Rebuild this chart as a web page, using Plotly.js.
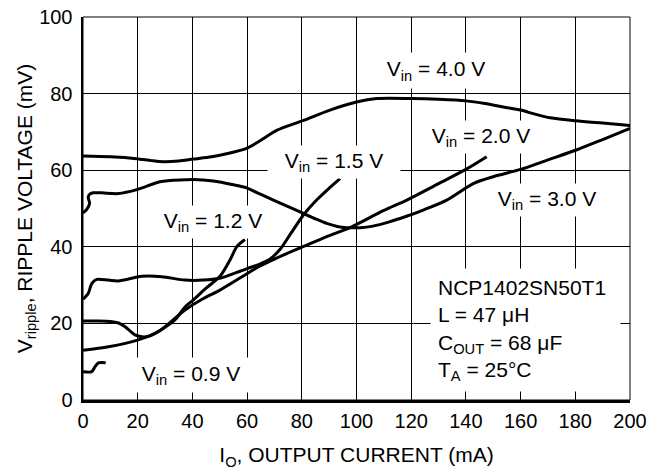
<!DOCTYPE html>
<html>
<head>
<meta charset="utf-8">
<script src="https://cdn.plot.ly/plotly-3.0.1.min.js"></script>
<style>html,body{margin:0;padding:0;background:#fff;}#chart{width:652px;height:472px;}</style>
</head>
<body>
<div id="chart"></div>
<script>
// Vin = 0.9 V
const x09 = [0, 3.2, 4.4, 5.6, 8.3];
const y09 = [7.4, 7.4, 8.7, 9.7, 9.7];
// Vin = 1.2 V
const x12 = [0, 5, 10, 13, 15.4, 19, 21.5, 24, 26.3, 30, 33.6, 37.3, 40.3, 45, 50.1, 53.7, 56.2, 59.2];
const y12 = [20.6, 20.6, 20.5, 20.1, 19.1, 17.0, 16.5, 16.6, 17.4, 19.0, 20.9, 24.3, 26.1, 29.2, 32.3, 36.5, 40.0, 41.9];
// Vin = 1.5 V
const x15 = [0, 1.9, 3.2, 5, 9.3, 12.9, 21.5, 28.8, 37.3, 44, 50, 55, 60, 64.7, 68.4, 72, 76, 80.6, 85.4, 90, 94];
const y15 = [26.3, 27.8, 30.4, 31.5, 31.3, 31.1, 32.3, 32.2, 31.3, 31.3, 31.8, 33.0, 34.3, 35.5, 36.8, 39.3, 43.5, 48.3, 52.2, 55.3, 57.8];
// Vin = 2.0 V
const x20 = [0, 9.3, 20.2, 27.5, 37.3, 44, 50.1, 59.8, 64.7, 70, 80, 90.3, 97.6, 110, 118.4, 130, 140, 147.6];
const y20 = [13.0, 13.9, 15.7, 17.8, 23.5, 26.5, 28.7, 32.9, 35.0, 36.8, 39.9, 43.0, 45.0, 49.5, 52.2, 56.5, 60.2, 63.5];
// Vin = 3.0 V
const x30 = [0, 1.2, 2.4, 1.9, 2.6, 3.8, 6.8, 12.9, 20, 28.2, 37.3, 40.3, 47.6, 55, 59.8, 64, 69.6, 75, 80.6, 85, 89.1, 93, 96.4, 101.3, 106, 112, 118, 124.4, 133, 142.7, 150, 160, 170, 180.1, 190, 200];
const y30 = [48.9, 49.6, 51.3, 53.0, 53.8, 54.1, 54.1, 53.9, 55.0, 57.0, 57.5, 57.6, 57.2, 56.2, 55.4, 54.0, 52.2, 50.5, 48.7, 47.3, 46.1, 45.3, 45.0, 45.0, 45.4, 46.5, 47.9, 49.6, 52.2, 56.5, 58.3, 60.2, 62.7, 65.2, 68.0, 70.9];
// Vin = 4.0 V
const x40 = [0, 10, 19.6, 25, 29.4, 35, 40.3, 47, 52.5, 59.8, 65, 70.8, 80.6, 90.3, 100, 107.4, 120.2, 130, 140, 147, 153.7, 160, 165, 170.8, 180.1, 190, 200];
const y40 = [63.7, 63.5, 63.0, 62.5, 62.2, 62.4, 62.9, 63.5, 64.3, 65.7, 67.8, 70.4, 73.0, 75.7, 77.8, 78.7, 78.7, 78.5, 78.1, 77.4, 76.5, 75.7, 74.7, 73.7, 72.9, 72.3, 71.7];

const xTicks = [0, 20, 40, 60, 80, 100, 120, 140, 160, 180, 200];
const yTicks = [0, 20, 40, 60, 80, 100];

const seriesLabels = ['V<sub>in</sub> = 0.9 V', 'V<sub>in</sub> = 1.2 V', 'V<sub>in</sub> = 1.5 V',
                      'V<sub>in</sub> = 2.0 V', 'V<sub>in</sub> = 3.0 V', 'V<sub>in</sub> = 4.0 V'];
const labelX = [39.5, 47.4, 91.8, 145.7, 169.7, 129.1];
const labelY = [6.6, 46.6, 62.2, 68.6, 52.2, 86.0];
const noteText = 'NCP1402SN50T1<br>L = 47 μH<br>C<sub>OUT</sub> = 68 μF<br>T<sub>A</sub> = 25°C';
const noteX = 126.9;
const noteY = 18.3;

// label box sizes (layout styling, not data)
const boxW = [118, 112, 128, 120, 112, 104];
const boxH = [30, 28, 28, 28, 28, 31];

const FONT = 'Liberation Sans, Arial, Helvetica, sans-serif';
const xs = [x09, x12, x15, x20, x30, x40];
const ys = [y09, y12, y15, y20, y30, y40];

const traces = xs.map((xv, i) => ({
  x: xv, y: ys[i], type: 'scatter', mode: 'lines',
  line: {color: '#000', width: 3, shape: 'spline', smoothing: 0.8},
  hoverinfo: 'skip', showlegend: false
}));

const annotations = seriesLabels.map((t, i) => ({
  x: labelX[i], y: labelY[i], xref: 'x', yref: 'y', text: t, showarrow: false,
  width: boxW[i], height: boxH[i], align: 'center', valign: 'middle',
  font: {family: FONT, size: 21, color: '#000'}, bgcolor: '#fff', borderpad: 2
}));
annotations.push({
  x: noteX, y: noteY, xref: 'x', yref: 'y', text: noteText, showarrow: false,
  xanchor: 'left', yanchor: 'middle', align: 'left', width: 175,
  font: {family: FONT, size: 21, color: '#000'}, bgcolor: '#fff', borderpad: 7
});

const layout = {
  width: 652, height: 472,
  margin: {l: 83, r: 22, t: 17, b: 72},
  paper_bgcolor: '#fff', plot_bgcolor: '#fff',
  font: {family: FONT, size: 20, color: '#000'},
  xaxis: {
    range: [0, 200], tickvals: xTicks, showgrid: true, gridcolor: '#000', gridwidth: 1,
    showline: true, linecolor: '#000', linewidth: 3, zeroline: false, ticks: '',
    ticklabelstandoff: 1,
    tickfont: {family: FONT, size: 20, color: '#000'},
    title: {text: 'I<sub>O</sub>, OUTPUT CURRENT (mA)', font: {family: FONT, size: 21, color: '#000'}, standoff: 17}
  },
  yaxis: {
    range: [0, 100], tickvals: yTicks, showgrid: true, gridcolor: '#000', gridwidth: 1,
    showline: true, linecolor: '#000', linewidth: 2.5, zeroline: false, ticks: '',
    ticklabelstandoff: 4,
    tickfont: {family: FONT, size: 20, color: '#000'},
    title: {text: 'V<sub>ripple</sub>, RIPPLE VOLTAGE (mV)', font: {family: FONT, size: 21, color: '#000'}, standoff: 1}
  },
  shapes: [{type: 'rect', xref: 'paper', yref: 'paper', x0: 0, x1: 1, y0: 0, y1: 1,
            line: {color: '#000', width: 1}}],
  annotations: annotations
};

Plotly.newPlot('chart', traces, layout, {displayModeBar: false, staticPlot: true});
</script>
</body>
</html>
